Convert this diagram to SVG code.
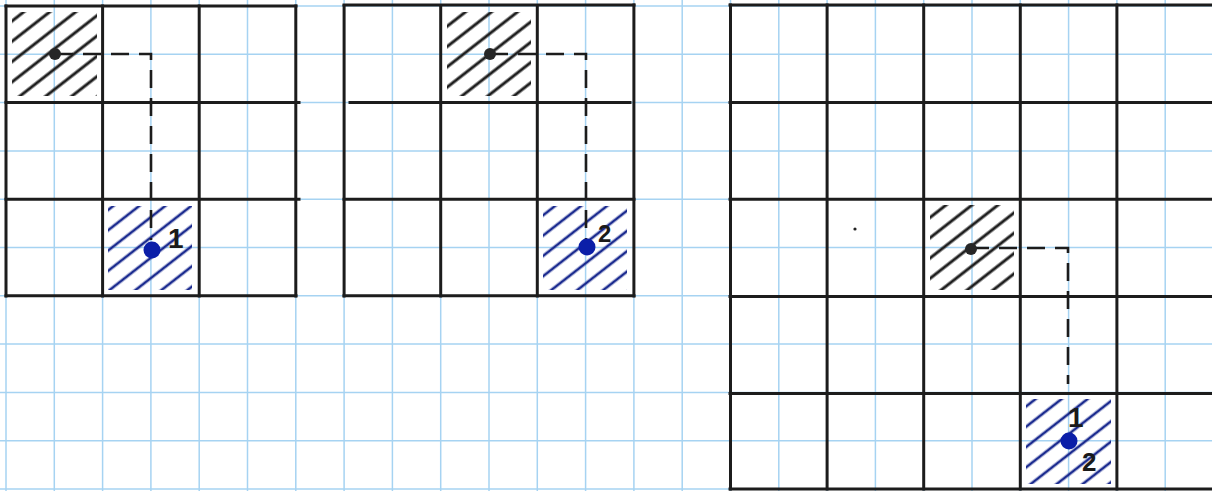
<svg xmlns="http://www.w3.org/2000/svg" width="1212" height="491" viewBox="0 0 1212 491">
  <style>
    .paper { stroke: #a6d3f2; stroke-width: 1.5; fill: none; }
    .grid { stroke: #1c1c1c; stroke-width: 3; fill: none; stroke-linecap: square; }
    .dash { stroke: #1c1c1c; stroke-width: 2.6; fill: none; stroke-dasharray: 18 10; }
    .dotk { fill: #262626; }
    .dotb { fill: #0b1ea8; }
    .lbl { font-family: "Liberation Sans", Arial, sans-serif; font-weight: bold; fill: #1a1a1a; }
  </style>
  <defs>
    <pattern id="hatchK" patternUnits="userSpaceOnUse" width="16" height="16" patternTransform="rotate(-38)">
      <line x1="0" y1="8" x2="16" y2="8" stroke="#1e1e1e" stroke-width="3"/>
    </pattern>
    <pattern id="hatchB" patternUnits="userSpaceOnUse" width="16" height="16" patternTransform="rotate(-38)">
      <line x1="0" y1="8" x2="16" y2="8" stroke="#1b2b8f" stroke-width="2.7"/>
    </pattern>
  </defs>
  <rect width="1212" height="491" fill="#ffffff"/>
  <g id="paper" class="paper">
    <path d="M6 0V491M54.3 0V491M102.6 0V491M150.9 0V491M199.2 0V491M247.5 0V491M295.8 0V491M344.1 0V491M392.4 0V491M440.7 0V491M489 0V491M537.3 0V491M585.6 0V491M633.9 0V491M682.2 0V491M730.5 0V491M778.8 0V491M827.1 0V491M875.4 0V491M923.7 0V491M972 0V491M1020.3 0V491M1068.6 0V491M1116.9 0V491M1165.2 0V491"/>
    <path d="M0 6H1212M0 54.3H1212M0 102.6H1212M0 150.9H1212M0 199.2H1212M0 247.5H1212M0 295.8H1212M0 344.1H1212M0 392.4H1212M0 440.7H1212M0 489H1212"/>
  </g>
  <g id="hatches">
    <rect id="g1-start-hatch" x="12" y="12" width="85" height="84" fill="url(#hatchK)"/>
    <rect id="g1-goal-hatch" x="108" y="206" width="84" height="84" fill="url(#hatchB)"/>
    <rect id="g2-start-hatch" x="447" y="12" width="84" height="84" fill="url(#hatchK)"/>
    <rect id="g2-goal-hatch" x="543" y="206" width="84" height="84" fill="url(#hatchB)"/>
    <rect id="g3-start-hatch" x="930" y="205" width="84" height="85" fill="url(#hatchK)"/>
    <rect id="g3-goal-hatch" x="1026" y="399" width="85" height="85" fill="url(#hatchB)"/>
  </g>
  <g id="grid1" class="grid">
    <path d="M6 6V296M102.6 6V296M199.2 6V296M295.8 6V296"/>
    <path d="M6 6H296M6 102.6H299M6 199.2H299M6 295.8H296"/>
  </g>
  <g id="grid2" class="grid">
    <path d="M344.1 6V296M440.7 6V296M537.3 6V296M633.9 5V296"/>
    <path d="M344 5H634M350 102.6H630M344 199.2H634M344 295.8H634"/>
  </g>
  <g id="grid3" class="grid">
    <path d="M730.5 5V489M827.1 5V489M923.7 5V489M1020.3 5V489M1116.9 5V489"/>
    <path d="M730 5H1212M730 102.6H1212M730 199.2H1212M730 296.5H1212M730 393.5H1212M730 489H1212"/>
  </g>
  <g id="connectors">
    <path class="dash" d="M55 54H151V240"/>
    <path class="dash" d="M490 54H586V240"/>
    <path class="dash" d="M971 248H1068V384"/>
  </g>
  <g id="g1-start"><circle class="dotk" cx="55" cy="54" r="6"/></g>
  <g id="g1-goal">
    <circle class="dotb" cx="152" cy="250" r="8.5"/>
    <text class="lbl" x="168" y="248" font-size="28">1</text>
  </g>
  <g id="g2-start"><circle class="dotk" cx="490" cy="54" r="6"/></g>
  <g id="g2-goal">
    <circle class="dotb" cx="587" cy="247" r="8.5"/>
    <text class="lbl" x="598" y="242" font-size="24">2</text>
  </g>
  <g id="g3-start"><circle class="dotk" cx="971" cy="249" r="6"/></g>
  <g id="g3-goal">
    <circle class="dotb" cx="1069" cy="441" r="8.5"/>
    <text class="lbl" x="1068" y="427" font-size="28">1</text>
    <text class="lbl" x="1082" y="471" font-size="26">2</text>
  </g>
  <circle cx="855" cy="229" r="1.6" fill="#222"/>
</svg>
